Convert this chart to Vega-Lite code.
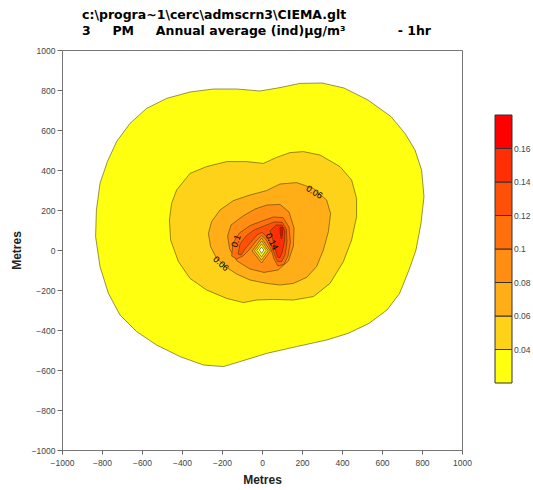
{
  "$schema": "https://vega.github.io/schema/vega-lite/v6.json",
  "width": 400,
  "height": 400,
  "autosize": "none",
  "padding": {"left": 62, "top": 50, "right": 71, "bottom": 40},
  "background": "white",
  "title": {
    "text": ["c:\\progra~1\\cerc\\admscrn3\\CIEMA.glt", "3\u00a0\u00a0\u00a0\u00a0\u00a0PM\u00a0\u00a0\u00a0\u00a0\u00a0Annual average (ind)µg/m³\u00a0\u00a0\u00a0\u00a0\u00a0\u00a0\u00a0\u00a0\u00a0\u00a0\u00a0\u00a0- 1hr"],
    "anchor": "start",
    "frame": "group",
    "dx": 20,
    "font": "DejaVu Sans",
    "fontSize": 12.5,
    "fontWeight": "bold",
    "color": "#000000",
    "offset": 9,
    "lineHeight": 16
  },
  "config": {
    "view": {"stroke": "#777777", "strokeWidth": 1},
    "axis": {
      "labelFont": "Liberation Sans",
      "labelFontSize": 8.5,
      "labelColor": "#444444",
      "tickColor": "#666666",
      "domain": false,
      "grid": false,
      "titleFont": "Liberation Sans",
      "titleFontSize": 12,
      "titleFontWeight": "bold",
      "titleColor": "#222222",
      "labelFlush": false,
      "labelOverlap": false
    },
    "legend": {"labelFont": "Liberation Sans"}
  },
  "datasets": {
    "poly": [
      {"poly":"p01","level":0.03,"i":0,"x":-660,"y":633},
      {"poly":"p01","level":0.03,"i":1,"x":-577,"y":708},
      {"poly":"p01","level":0.03,"i":2,"x":-477,"y":758},
      {"poly":"p01","level":0.03,"i":3,"x":-360,"y":790},
      {"poly":"p01","level":0.03,"i":4,"x":-243,"y":805},
      {"poly":"p01","level":0.03,"i":5,"x":-127,"y":805},
      {"poly":"p01","level":0.03,"i":6,"x":-10,"y":795},
      {"poly":"p01","level":0.03,"i":7,"x":90,"y":812},
      {"poly":"p01","level":0.03,"i":8,"x":190,"y":833},
      {"poly":"p01","level":0.03,"i":9,"x":300,"y":835},
      {"poly":"p01","level":0.03,"i":10,"x":410,"y":810},
      {"poly":"p01","level":0.03,"i":11,"x":530,"y":750},
      {"poly":"p01","level":0.03,"i":12,"x":645,"y":667},
      {"poly":"p01","level":0.03,"i":13,"x":715,"y":583},
      {"poly":"p01","level":0.03,"i":14,"x":765,"y":500},
      {"poly":"p01","level":0.03,"i":15,"x":798,"y":400},
      {"poly":"p01","level":0.03,"i":16,"x":810,"y":267},
      {"poly":"p01","level":0.03,"i":17,"x":795,"y":133},
      {"poly":"p01","level":0.03,"i":18,"x":770,"y":0},
      {"poly":"p01","level":0.03,"i":19,"x":735,"y":-100},
      {"poly":"p01","level":0.03,"i":20,"x":688,"y":-217},
      {"poly":"p01","level":0.03,"i":21,"x":625,"y":-300},
      {"poly":"p01","level":0.03,"i":22,"x":535,"y":-367},
      {"poly":"p01","level":0.03,"i":23,"x":430,"y":-417},
      {"poly":"p01","level":0.03,"i":24,"x":323,"y":-450},
      {"poly":"p01","level":0.03,"i":25,"x":173,"y":-483},
      {"poly":"p01","level":0.03,"i":26,"x":23,"y":-517},
      {"poly":"p01","level":0.03,"i":27,"x":-110,"y":-558},
      {"poly":"p01","level":0.03,"i":28,"x":-193,"y":-583},
      {"poly":"p01","level":0.03,"i":29,"x":-293,"y":-575},
      {"poly":"p01","level":0.03,"i":30,"x":-410,"y":-533},
      {"poly":"p01","level":0.03,"i":31,"x":-527,"y":-475},
      {"poly":"p01","level":0.03,"i":32,"x":-627,"y":-408},
      {"poly":"p01","level":0.03,"i":33,"x":-710,"y":-325},
      {"poly":"p01","level":0.03,"i":34,"x":-768,"y":-217},
      {"poly":"p01","level":0.03,"i":35,"x":-810,"y":-83},
      {"poly":"p01","level":0.03,"i":36,"x":-832,"y":67},
      {"poly":"p01","level":0.03,"i":37,"x":-828,"y":200},
      {"poly":"p01","level":0.03,"i":38,"x":-810,"y":333},
      {"poly":"p01","level":0.03,"i":39,"x":-773,"y":442},
      {"poly":"p01","level":0.03,"i":40,"x":-727,"y":542},
      {"poly":"p01","level":0.03,"i":41,"x":-660,"y":633},

      {"poly":"p02","level":0.05,"i":0,"x":-463,"y":150},
      {"poly":"p02","level":0.05,"i":1,"x":-452,"y":233},
      {"poly":"p02","level":0.05,"i":2,"x":-427,"y":300},
      {"poly":"p02","level":0.05,"i":3,"x":-360,"y":383},
      {"poly":"p02","level":0.05,"i":4,"x":-277,"y":417},
      {"poly":"p02","level":0.05,"i":5,"x":-177,"y":442},
      {"poly":"p02","level":0.05,"i":6,"x":-77,"y":442},
      {"poly":"p02","level":0.05,"i":7,"x":7,"y":433},
      {"poly":"p02","level":0.05,"i":8,"x":73,"y":463},
      {"poly":"p02","level":0.05,"i":9,"x":140,"y":487},
      {"poly":"p02","level":0.05,"i":10,"x":207,"y":492},
      {"poly":"p02","level":0.05,"i":11,"x":290,"y":475},
      {"poly":"p02","level":0.05,"i":12,"x":390,"y":417},
      {"poly":"p02","level":0.05,"i":13,"x":448,"y":350},
      {"poly":"p02","level":0.05,"i":14,"x":473,"y":258},
      {"poly":"p02","level":0.05,"i":15,"x":473,"y":167},
      {"poly":"p02","level":0.05,"i":16,"x":448,"y":50},
      {"poly":"p02","level":0.05,"i":17,"x":407,"y":-58},
      {"poly":"p02","level":0.05,"i":18,"x":340,"y":-167},
      {"poly":"p02","level":0.05,"i":19,"x":257,"y":-233},
      {"poly":"p02","level":0.05,"i":20,"x":157,"y":-250},
      {"poly":"p02","level":0.05,"i":21,"x":57,"y":-247},
      {"poly":"p02","level":0.05,"i":22,"x":-27,"y":-250},
      {"poly":"p02","level":0.05,"i":23,"x":-93,"y":-263},
      {"poly":"p02","level":0.05,"i":24,"x":-177,"y":-242},
      {"poly":"p02","level":0.05,"i":25,"x":-277,"y":-200},
      {"poly":"p02","level":0.05,"i":26,"x":-360,"y":-142},
      {"poly":"p02","level":0.05,"i":27,"x":-418,"y":-58},
      {"poly":"p02","level":0.05,"i":28,"x":-457,"y":50},
      {"poly":"p02","level":0.05,"i":29,"x":-463,"y":150},

      {"poly":"p03","level":0.07,"i":0,"x":-268,"y":83},
      {"poly":"p03","level":0.07,"i":1,"x":-252,"y":142},
      {"poly":"p03","level":0.07,"i":2,"x":-210,"y":200},
      {"poly":"p03","level":0.07,"i":3,"x":-143,"y":247},
      {"poly":"p03","level":0.07,"i":4,"x":-60,"y":275},
      {"poly":"p03","level":0.07,"i":5,"x":23,"y":297},
      {"poly":"p03","level":0.07,"i":6,"x":90,"y":330},
      {"poly":"p03","level":0.07,"i":7,"x":173,"y":337},
      {"poly":"p03","level":0.07,"i":8,"x":257,"y":308},
      {"poly":"p03","level":0.07,"i":9,"x":323,"y":250},
      {"poly":"p03","level":0.07,"i":10,"x":343,"y":183},
      {"poly":"p03","level":0.07,"i":11,"x":332,"y":92},
      {"poly":"p03","level":0.07,"i":12,"x":307,"y":0},
      {"poly":"p03","level":0.07,"i":13,"x":273,"y":-83},
      {"poly":"p03","level":0.07,"i":14,"x":223,"y":-137},
      {"poly":"p03","level":0.07,"i":15,"x":157,"y":-167},
      {"poly":"p03","level":0.07,"i":16,"x":90,"y":-175},
      {"poly":"p03","level":0.07,"i":17,"x":23,"y":-167},
      {"poly":"p03","level":0.07,"i":18,"x":-60,"y":-150},
      {"poly":"p03","level":0.07,"i":19,"x":-127,"y":-120},
      {"poly":"p03","level":0.07,"i":20,"x":-177,"y":-87},
      {"poly":"p03","level":0.07,"i":21,"x":-227,"y":-42},
      {"poly":"p03","level":0.07,"i":22,"x":-257,"y":17},
      {"poly":"p03","level":0.07,"i":23,"x":-268,"y":83},

      {"poly":"p04","level":0.09,"i":0,"x":-172,"y":70},
      {"poly":"p04","level":0.09,"i":1,"x":-155,"y":125},
      {"poly":"p04","level":0.09,"i":2,"x":-95,"y":170},
      {"poly":"p04","level":0.09,"i":3,"x":-35,"y":205},
      {"poly":"p04","level":0.09,"i":4,"x":25,"y":225},
      {"poly":"p04","level":0.09,"i":5,"x":90,"y":228},
      {"poly":"p04","level":0.09,"i":6,"x":135,"y":190},
      {"poly":"p04","level":0.09,"i":7,"x":160,"y":110},
      {"poly":"p04","level":0.09,"i":8,"x":157,"y":20},
      {"poly":"p04","level":0.09,"i":9,"x":132,"y":-55},
      {"poly":"p04","level":0.09,"i":10,"x":80,"y":-100},
      {"poly":"p04","level":0.09,"i":11,"x":10,"y":-112},
      {"poly":"p04","level":0.09,"i":12,"x":-60,"y":-95},
      {"poly":"p04","level":0.09,"i":13,"x":-125,"y":-55},
      {"poly":"p04","level":0.09,"i":14,"x":-162,"y":5},
      {"poly":"p04","level":0.09,"i":15,"x":-172,"y":70},

      {"poly":"p05","level":0.11,"i":0,"x":-152,"y":-30},
      {"poly":"p05","level":0.11,"i":1,"x":-145,"y":35},
      {"poly":"p05","level":0.11,"i":2,"x":-113,"y":85},
      {"poly":"p05","level":0.11,"i":3,"x":-60,"y":122},
      {"poly":"p05","level":0.11,"i":4,"x":0,"y":145},
      {"poly":"p05","level":0.11,"i":5,"x":57,"y":165},
      {"poly":"p05","level":0.11,"i":6,"x":105,"y":162},
      {"poly":"p05","level":0.11,"i":7,"x":135,"y":115},
      {"poly":"p05","level":0.11,"i":8,"x":142,"y":40},
      {"poly":"p05","level":0.11,"i":9,"x":130,"y":-30},
      {"poly":"p05","level":0.11,"i":10,"x":110,"y":-72},
      {"poly":"p05","level":0.11,"i":11,"x":80,"y":-80},
      {"poly":"p05","level":0.11,"i":12,"x":60,"y":-45},
      {"poly":"p05","level":0.11,"i":13,"x":45,"y":5},
      {"poly":"p05","level":0.11,"i":14,"x":18,"y":55},
      {"poly":"p05","level":0.11,"i":15,"x":-2,"y":72},
      {"poly":"p05","level":0.11,"i":16,"x":-30,"y":45},
      {"poly":"p05","level":0.11,"i":17,"x":-60,"y":5},
      {"poly":"p05","level":0.11,"i":18,"x":-95,"y":-30},
      {"poly":"p05","level":0.11,"i":19,"x":-128,"y":-45},
      {"poly":"p05","level":0.11,"i":20,"x":-152,"y":-30},

      {"poly":"p06","level":0.13,"i":0,"x":-120,"y":-20},
      {"poly":"p06","level":0.13,"i":1,"x":-110,"y":30},
      {"poly":"p06","level":0.13,"i":2,"x":-80,"y":70},
      {"poly":"p06","level":0.13,"i":3,"x":-40,"y":100},
      {"poly":"p06","level":0.13,"i":4,"x":10,"y":120},
      {"poly":"p06","level":0.13,"i":5,"x":60,"y":140},
      {"poly":"p06","level":0.13,"i":6,"x":100,"y":140},
      {"poly":"p06","level":0.13,"i":7,"x":122,"y":105},
      {"poly":"p06","level":0.13,"i":8,"x":125,"y":40},
      {"poly":"p06","level":0.13,"i":9,"x":115,"y":-25},
      {"poly":"p06","level":0.13,"i":10,"x":98,"y":-58},
      {"poly":"p06","level":0.13,"i":11,"x":78,"y":-58},
      {"poly":"p06","level":0.13,"i":12,"x":65,"y":-30},
      {"poly":"p06","level":0.13,"i":13,"x":48,"y":20},
      {"poly":"p06","level":0.13,"i":14,"x":25,"y":65},
      {"poly":"p06","level":0.13,"i":15,"x":0,"y":88},
      {"poly":"p06","level":0.13,"i":16,"x":-25,"y":75},
      {"poly":"p06","level":0.13,"i":17,"x":-55,"y":40},
      {"poly":"p06","level":0.13,"i":18,"x":-85,"y":5},
      {"poly":"p06","level":0.13,"i":19,"x":-105,"y":-25},
      {"poly":"p06","level":0.13,"i":20,"x":-120,"y":-20},

      {"poly":"p07","level":0.15,"i":0,"x":40,"y":95},
      {"poly":"p07","level":0.15,"i":1,"x":70,"y":125},
      {"poly":"p07","level":0.15,"i":2,"x":100,"y":125},
      {"poly":"p07","level":0.15,"i":3,"x":115,"y":95},
      {"poly":"p07","level":0.15,"i":4,"x":112,"y":40},
      {"poly":"p07","level":0.15,"i":5,"x":100,"y":-15},
      {"poly":"p07","level":0.15,"i":6,"x":88,"y":-40},
      {"poly":"p07","level":0.15,"i":7,"x":78,"y":-35},
      {"poly":"p07","level":0.15,"i":8,"x":68,"y":0},
      {"poly":"p07","level":0.15,"i":9,"x":57,"y":42},
      {"poly":"p07","level":0.15,"i":10,"x":40,"y":95},

      {"poly":"p08","level":0.17,"i":0,"x":90,"y":115},
      {"poly":"p08","level":0.17,"i":1,"x":105,"y":112},
      {"poly":"p08","level":0.17,"i":2,"x":103,"y":80},
      {"poly":"p08","level":0.17,"i":3,"x":97,"y":55},
      {"poly":"p08","level":0.17,"i":4,"x":92,"y":75},
      {"poly":"p08","level":0.17,"i":5,"x":90,"y":115},

      {"poly":"p09","level":0.07,"i":0,"x":-2,"y":60},
      {"poly":"p09","level":0.07,"i":1,"x":-50,"y":-5},
      {"poly":"p09","level":0.07,"i":2,"x":-2,"y":-65},
      {"poly":"p09","level":0.07,"i":3,"x":42,"y":-5},
      {"poly":"p09","level":0.07,"i":4,"x":-2,"y":60},

      {"poly":"p10","level":0.05,"i":0,"x":-2,"y":45},
      {"poly":"p10","level":0.05,"i":1,"x":-38,"y":-4},
      {"poly":"p10","level":0.05,"i":2,"x":-2,"y":-50},
      {"poly":"p10","level":0.05,"i":3,"x":31,"y":-4},
      {"poly":"p10","level":0.05,"i":4,"x":-2,"y":45},

      {"poly":"p11","level":0.03,"i":0,"x":-2,"y":30},
      {"poly":"p11","level":0.03,"i":1,"x":-26,"y":-2},
      {"poly":"p11","level":0.03,"i":2,"x":-2,"y":-34},
      {"poly":"p11","level":0.03,"i":3,"x":20,"y":-2},
      {"poly":"p11","level":0.03,"i":4,"x":-2,"y":30}
    ],
    "hole": [
      {"poly":"h1","i":0,"x":-2,"y":15},
      {"poly":"h1","i":1,"x":-13,"y":0},
      {"poly":"h1","i":2,"x":-2,"y":-17},
      {"poly":"h1","i":3,"x":9,"y":0},
      {"poly":"h1","i":4,"x":-2,"y":15}
    ]
  },
  "layer": [
    {
      "data": {"name": "poly"},
      "mark": {"type": "line", "stroke": "#3a3000", "strokeWidth": 0.7, "strokeOpacity": 0.75, "interpolate": "linear"},
      "encoding": {
        "x": {
          "field": "x", "type": "quantitative",
          "scale": {"domain": [-1000, 1000], "nice": false, "zero": false},
          "axis": {"values": [-1000,-800,-600,-400,-200,0,200,400,600,800,1000], "tickCount": 20, "format": "d", "labelOverlap": false, "tickSize": 4, "labelPadding": 4, "title": "Metres", "titlePadding": 8}
        },
        "y": {
          "field": "y", "type": "quantitative",
          "scale": {"domain": [-1000, 1000], "nice": false, "zero": false},
          "axis": {"values": [-1000,-800,-600,-400,-200,0,200,400,600,800,1000], "tickCount": 20, "format": "d", "labelOverlap": false, "tickSize": 5, "labelPadding": 2, "title": "Metres", "titlePadding": 8}
        },
        "fill": {
          "field": "level", "type": "quantitative",
          "scale": {"type": "quantize", "domain": [0.02, 0.18], "bins": [0.02, 0.04, 0.06, 0.08, 0.1, 0.12, 0.14, 0.16, 0.18], "range": ["#FFFF10","#FFD21A","#FFAE17","#FF8E12","#FF6F0C","#FF5008","#FF2E04","#FF0000"]},
          "legend": {
            "type": "gradient", "title": null, "orient": "none", "legendX": 433, "legendY": 65,
            "direction": "vertical", "gradientLength": 268, "gradientThickness": 17,
            "gradientStrokeColor": "#333333", "gradientStrokeWidth": 1,
            "labelFontSize": 8.5, "labelColor": "#444444", "labelOffset": 2,
            "format": ".2~f", "labelExpr": "datum.value > 0.17 ? '' : datum.label"
          }
        },
        "detail": {"field": "poly"},
        "order": {"field": "i"}
      }
    },
    {
      "data": {"name": "hole"},
      "mark": {"type": "line", "fill": "#ffffff", "stroke": "#555555", "strokeWidth": 0.7},
      "encoding": {
        "x": {"field": "x", "type": "quantitative"},
        "y": {"field": "y", "type": "quantitative"},
        "detail": {"field": "poly"},
        "order": {"field": "i"}
      }
    },
    {
      "data": {"values": [{"label": "0.06", "x": 262, "y": 290}]},
      "mark": {"type": "text", "angle": 32, "font": "Liberation Sans", "fontSize": 9, "color": "#000000"},
      "encoding": {"x": {"field": "x", "type": "quantitative"}, "y": {"field": "y", "type": "quantitative"}, "text": {"field": "label"}}
    },
    {
      "data": {"values": [{"label": "0.06", "x": -205, "y": -68}]},
      "mark": {"type": "text", "angle": 42, "font": "Liberation Sans", "fontSize": 9, "color": "#000000"},
      "encoding": {"x": {"field": "x", "type": "quantitative"}, "y": {"field": "y", "type": "quantitative"}, "text": {"field": "label"}}
    },
    {
      "data": {"values": [{"label": "0.1", "x": -130, "y": 45}]},
      "mark": {"type": "text", "angle": 290, "font": "Liberation Sans", "fontSize": 9, "color": "#000000"},
      "encoding": {"x": {"field": "x", "type": "quantitative"}, "y": {"field": "y", "type": "quantitative"}, "text": {"field": "label"}}
    },
    {
      "data": {"values": [{"label": "0.14", "x": 50, "y": 42}]},
      "mark": {"type": "text", "angle": 62, "font": "Liberation Sans", "fontSize": 9, "color": "#000000"},
      "encoding": {"x": {"field": "x", "type": "quantitative"}, "y": {"field": "y", "type": "quantitative"}, "text": {"field": "label"}}
    }
  ]
}
